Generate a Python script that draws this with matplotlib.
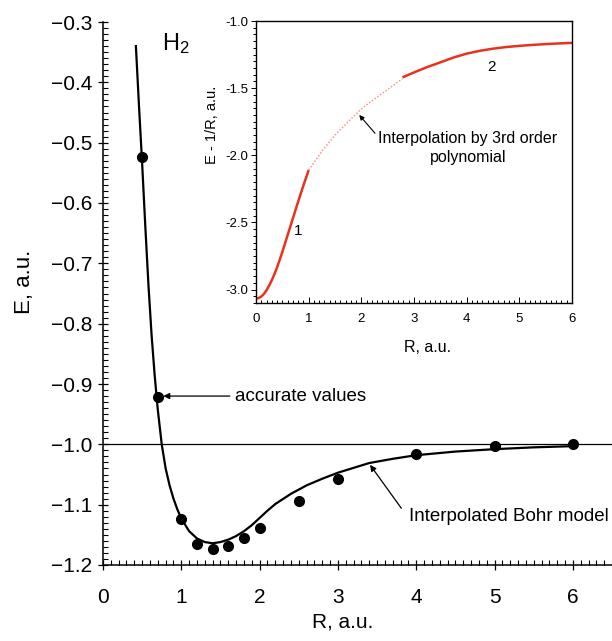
import matplotlib
matplotlib.use("Agg")
import matplotlib.pyplot as plt
from matplotlib.ticker import MultipleLocator

plt.rcParams['font.family'] = ['Liberation Sans', 'DejaVu Sans']
plt.rcParams['mathtext.fontset'] = 'custom'
plt.rcParams['mathtext.rm'] = 'Liberation Sans'
plt.rcParams['mathtext.default'] = 'regular'

# ---- main panel data ----
bohr_R = [0.42, 0.46, 0.50, 0.54, 0.58, 0.62, 0.66, 0.70, 0.75, 0.80, 0.85, 0.90, 0.95,
          1.00, 1.10, 1.20, 1.30, 1.40, 1.50, 1.60, 1.70, 1.80, 1.90, 2.00, 2.10, 2.20,
          2.40, 2.60, 2.80, 3.00, 3.20, 3.40, 3.70, 4.00, 4.50, 5.00, 5.50, 6.00]
bohr_E = [-0.340, -0.440, -0.535, -0.638, -0.735, -0.818, -0.886, -0.943, -1.000, -1.040,
          -1.068, -1.090, -1.108, -1.123, -1.144, -1.156, -1.162, -1.164, -1.162, -1.158,
          -1.152, -1.144, -1.134, -1.122, -1.110, -1.099, -1.082, -1.068, -1.057, -1.047,
          -1.039, -1.031, -1.024, -1.018, -1.012, -1.008, -1.005, -1.003]
acc_R = [0.5, 0.7, 1.0, 1.2, 1.4, 1.6, 1.8, 2.0, 2.5, 3.0, 4.0, 5.0, 6.0]
acc_E = [-0.524, -0.922, -1.124, -1.165, -1.174, -1.168, -1.156, -1.138, -1.094,
         -1.057, -1.016, -1.003, -1.000]
main_xticks = [0, 1, 2, 3, 4, 5, 6]
main_xlabels = ['0', '1', '2', '3', '4', '5', '6']
main_yticks = [-1.2, -1.1, -1.0, -0.9, -0.8, -0.7, -0.6, -0.5, -0.4, -0.3]
main_ylabels = ['\u22121.2', '\u22121.1', '\u22121.0', '\u22120.9', '\u22120.8',
                '\u22120.7', '\u22120.6', '\u22120.5', '\u22120.4', '\u22120.3']

# ---- inset data ----
seg1_R = [0.0, 0.05, 0.1, 0.15, 0.2, 0.25, 0.3, 0.35, 0.4, 0.5, 0.6, 0.7, 0.8, 0.9, 1.0]
seg1_y = [-3.067, -3.063, -3.052, -3.033, -3.005, -2.970, -2.930, -2.885, -2.835,
          -2.720, -2.595, -2.470, -2.345, -2.225, -2.110]
interp_R = [1.0, 1.25, 1.5, 1.75, 2.0, 2.25, 2.5, 2.78]
interp_y = [-2.110, -1.970, -1.850, -1.750, -1.655, -1.580, -1.510, -1.430]
seg2_R = [2.78, 3.0, 3.25, 3.5, 3.75, 4.0, 4.25, 4.5, 4.75, 5.0, 5.25, 5.5, 5.75, 6.0]
seg2_y = [-1.420, -1.383, -1.343, -1.308, -1.272, -1.243, -1.222, -1.206, -1.194,
          -1.185, -1.178, -1.172, -1.167, -1.163]
ins_xticks = [0, 1, 2, 3, 4, 5, 6]
ins_xlabels = ['0', '1', '2', '3', '4', '5', '6']
ins_yticks = [-3.0, -2.5, -2.0, -1.5, -1.0]
ins_ylabels = ['-3.0', '-2.5', '-2.0', '-1.5', '-1.0']

W, H = 612, 641
fig = plt.figure(figsize=(W / 100, H / 100), dpi=100)

# main axes
ax = fig.add_axes([103 / W, (H - 565) / H, (W - 103) / W, (565 - 22) / H])
ax.set_xlim(0, 6.5)
ax.set_ylim(-1.2, -0.3)
ax.spines['top'].set_visible(False)
ax.spines['right'].set_visible(False)
for s in ('left', 'bottom'):
    ax.spines[s].set_linewidth(1.1)

ax.axhline(-1.0, color='black', lw=0.9)
ax.plot(bohr_R, bohr_E, color='black', lw=1.6, zorder=3)
ax.plot(acc_R, acc_E, 'o', color='black', ms=7, zorder=4)

ax.set_xticks(main_xticks, main_xlabels)
ax.set_yticks(main_yticks, main_ylabels)

ax.set_xlabel('R, a.u.', fontsize=15)
ax.set_ylabel('E, a.u.', fontsize=16)
ax.xaxis.set_label_coords(0.4715, -0.087)
ax.yaxis.set_label_coords(-0.134, 0.521)

ax.text(0.753, -0.335, 'H$_2$', fontsize=17, ha='left', va='center')

ax.annotate('', xy=(0.77, -0.920), xytext=(1.62, -0.920),
            arrowprops=dict(arrowstyle='-|>', color='black', lw=0.9,
                            mutation_scale=9, shrinkA=0, shrinkB=0))
ax.text(1.69, -0.920, 'accurate values', fontsize=13.5, ha='left', va='center')

ax.annotate('', xy=(3.41, -1.034), xytext=(3.81, -1.106),
            arrowprops=dict(arrowstyle='-|>', color='black', lw=0.9,
                            mutation_scale=9, shrinkA=0, shrinkB=0))
ax.text(3.91, -1.120, 'Interpolated Bohr model', fontsize=13.5, ha='left', va='center')

# inset axes
ins = fig.add_axes([256 / W, (H - 303) / H, (572 - 256) / W, (303 - 21) / H])
ins.set_xlim(0, 6)
ins.set_ylim(-3.1, -1.0)
for s in ins.spines.values():
    s.set_linewidth(1.0)
red = '#e8321e'
ins.plot(seg1_R, seg1_y, color=red, lw=1.8, solid_capstyle='butt')
ins.plot(interp_R, interp_y, color='#f4998a', lw=1.1, ls=(0, (1.0, 1.2)))
ins.plot(seg2_R, seg2_y, color=red, lw=1.8, solid_capstyle='butt')

ins.set_xticks(ins_xticks, ins_xlabels)
ins.set_yticks(ins_yticks, ins_ylabels)

ins.set_xlabel('R, a.u.', fontsize=11.5)
ins.set_ylabel('E - 1/R, a.u.', fontsize=10.5)
ins.xaxis.set_label_coords(0.544, -0.131)
ins.yaxis.set_label_coords(-0.117, 0.63)

ins.text(0.80, -2.567, '1', fontsize=11, ha='center', va='center')
ins.text(4.48, -1.342, '2', fontsize=11, ha='center', va='center')
ins.annotate('', xy=(1.96, -1.70), xytext=(2.26, -1.836),
             arrowprops=dict(arrowstyle='-|>', color='black', lw=0.8,
                             mutation_scale=7, shrinkA=0, shrinkB=0))
ins.text(4.02, -1.944, 'Interpolation by 3rd order\npolynomial', fontsize=11.5,
         ha='center', va='center', multialignment='center', linespacing=1.35)

# ---- tick styling, applied last ----
ax.minorticks_on()
ax.xaxis.set_minor_locator(MultipleLocator(0.1))
ax.yaxis.set_minor_locator(MultipleLocator(0.01))
ax.tick_params(which='major', direction='inout', length=7, width=0.9, labelsize=15)
ax.tick_params(which='minor', direction='in', length=3.5, width=0.8)
ax.tick_params(axis='x', which='major', pad=13)
ax.tick_params(axis='y', which='major', pad=4)

ins.minorticks_on()
ins.xaxis.set_minor_locator(MultipleLocator(0.1))
ins.yaxis.set_minor_locator(MultipleLocator(0.05))
ins.tick_params(axis='x', which='both', direction='in', width=0.7, labelsize=9.5, pad=7)
ins.tick_params(axis='x', which='major', length=4)
ins.tick_params(axis='x', which='minor', length=2.5)
ins.tick_params(axis='y', which='both', direction='out', width=0.7, labelsize=9.5, pad=2)
ins.tick_params(axis='y', which='major', length=3.5)
ins.tick_params(axis='y', which='minor', length=2.5)

fig.savefig('out.png', dpi=100)
